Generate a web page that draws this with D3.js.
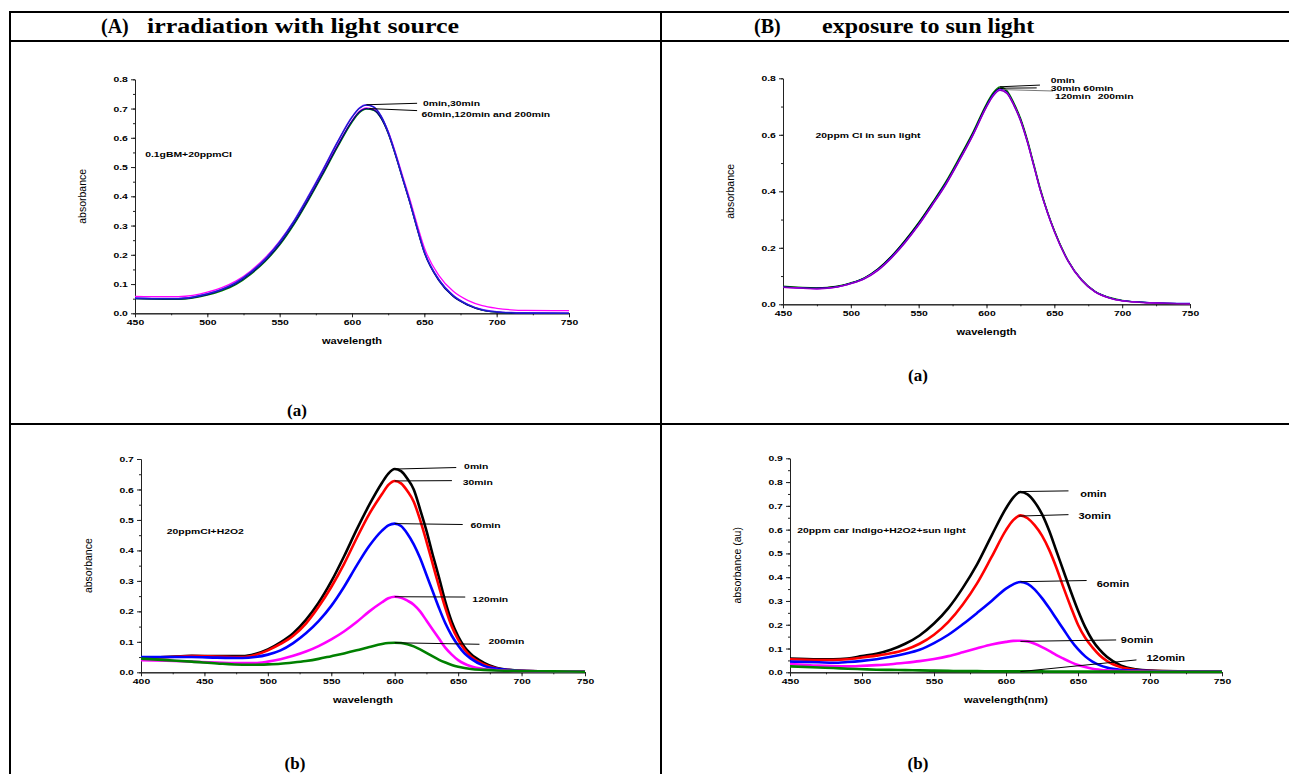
<!DOCTYPE html>
<html>
<head>
<meta charset="utf-8">
<script src="https://cdn.jsdelivr.net/npm/d3@7"></script>
<style>
  body { margin: 0; background: #fff; }
  text { font-family: "Liberation Sans", Arial, sans-serif; }
</style>
</head>
<body>
<svg></svg>
<script>
const width = 1289;
const height = 774;
const svg = d3.select("svg").attr("width", width).attr("height", height);

// ---- panel A(a): irradiation, 0.1gBM + 20ppm CI ----
const wlAa = [450,470,480,490,500,510,520,530,540,550,560,570,580,590,600,605,610,615,620,625,630,635,640,645,650,660,670,680,690,700,710,720,750];
const aa0   = [0.052,0.05,0.05,0.055,0.066,0.082,0.105,0.14,0.185,0.243,0.315,0.4,0.49,0.585,0.67,0.70,0.712,0.705,0.675,0.62,0.545,0.462,0.38,0.292,0.21,0.115,0.06,0.03,0.012,0.005,0.002,0.001,0.0];
const aa30  = [0.053,0.051,0.051,0.056,0.067,0.083,0.107,0.142,0.187,0.246,0.318,0.403,0.493,0.587,0.672,0.702,0.713,0.706,0.676,0.621,0.547,0.464,0.382,0.294,0.212,0.117,0.062,0.031,0.013,0.006,0.003,0.002,0.001];
const aa60  = [0.05,0.049,0.049,0.054,0.064,0.08,0.102,0.136,0.18,0.237,0.308,0.391,0.48,0.572,0.657,0.688,0.70,0.695,0.668,0.615,0.541,0.459,0.378,0.289,0.207,0.112,0.057,0.028,0.011,0.004,0.001,0.0,0.0];
const aa120 = [0.05,0.048,0.048,0.052,0.062,0.077,0.099,0.133,0.177,0.233,0.304,0.387,0.476,0.568,0.653,0.685,0.698,0.694,0.668,0.616,0.543,0.462,0.38,0.292,0.21,0.114,0.058,0.029,0.011,0.004,0.001,0.0,0.0];
const aa200 = [0.058,0.057,0.057,0.061,0.072,0.088,0.111,0.145,0.19,0.247,0.316,0.397,0.485,0.575,0.658,0.69,0.702,0.697,0.672,0.622,0.55,0.47,0.39,0.304,0.224,0.13,0.075,0.044,0.026,0.017,0.012,0.01,0.009];
const labelsAa = ["0min,30min", "60min,120min and 200min"];

// ---- panel B(a): sun light, 20ppm CI ----
const wlBa = [450,475,490,500,510,520,530,540,550,560,570,580,590,600,605,610,615,620,625,630,635,640,645,650,660,670,680,690,700,720,750];
const ba0   = [0.064,0.058,0.064,0.076,0.094,0.126,0.171,0.227,0.29,0.36,0.434,0.52,0.61,0.71,0.75,0.77,0.757,0.715,0.66,0.585,0.495,0.405,0.328,0.262,0.157,0.088,0.046,0.025,0.014,0.006,0.002];
const ba30  = [0.062,0.057,0.063,0.075,0.093,0.125,0.17,0.225,0.287,0.357,0.43,0.515,0.605,0.705,0.745,0.765,0.752,0.71,0.655,0.58,0.49,0.4,0.325,0.26,0.155,0.087,0.045,0.024,0.013,0.006,0.002];
const ba60  = [0.061,0.056,0.062,0.074,0.092,0.123,0.168,0.222,0.284,0.354,0.427,0.512,0.602,0.702,0.742,0.762,0.75,0.708,0.653,0.578,0.489,0.399,0.324,0.259,0.155,0.087,0.045,0.024,0.013,0.006,0.003];
const ba120 = [0.06,0.055,0.061,0.073,0.091,0.121,0.165,0.219,0.281,0.351,0.424,0.509,0.599,0.699,0.739,0.759,0.748,0.707,0.652,0.577,0.488,0.398,0.323,0.258,0.154,0.086,0.044,0.023,0.012,0.005,0.002];
const ba200 = [0.06,0.055,0.061,0.073,0.09,0.12,0.164,0.218,0.28,0.35,0.423,0.508,0.598,0.698,0.738,0.757,0.746,0.705,0.65,0.575,0.486,0.397,0.322,0.257,0.153,0.085,0.044,0.023,0.012,0.005,0.002];
const labelsBa = ["0min", "30min", "60min", "120min", "200min"];

// ---- panel A(b): 20ppm CI + H2O2 ----
const wlAb = [400,420,440,460,480,490,500,510,520,530,540,550,560,570,580,590,595,600,605,610,615,620,625,630,635,640,645,650,655,660,670,680,690,700,725,750];
const ab0   = [0.047,0.05,0.054,0.053,0.053,0.06,0.075,0.098,0.128,0.172,0.228,0.298,0.38,0.468,0.55,0.622,0.652,0.667,0.66,0.635,0.6,0.535,0.465,0.385,0.31,0.23,0.165,0.118,0.083,0.06,0.032,0.015,0.008,0.005,0.003,0.002];
const ab30  = [0.047,0.05,0.053,0.052,0.05,0.057,0.072,0.093,0.12,0.16,0.215,0.28,0.355,0.44,0.52,0.585,0.615,0.628,0.62,0.595,0.56,0.5,0.43,0.355,0.28,0.21,0.15,0.107,0.075,0.052,0.027,0.013,0.007,0.005,0.003,0.002];
const ab60  = [0.05,0.05,0.05,0.048,0.047,0.05,0.058,0.072,0.096,0.128,0.168,0.218,0.28,0.35,0.415,0.465,0.482,0.488,0.48,0.455,0.42,0.375,0.32,0.265,0.21,0.16,0.12,0.088,0.062,0.045,0.022,0.012,0.007,0.005,0.003,0.002];
const ab120 = [0.04,0.038,0.035,0.032,0.03,0.03,0.035,0.043,0.054,0.068,0.086,0.108,0.134,0.165,0.2,0.23,0.243,0.248,0.245,0.235,0.222,0.2,0.17,0.14,0.11,0.08,0.058,0.04,0.028,0.02,0.011,0.007,0.005,0.004,0.003,0.002];
const ab200 = [0.045,0.04,0.035,0.029,0.025,0.025,0.026,0.028,0.032,0.037,0.044,0.053,0.062,0.072,0.083,0.093,0.096,0.097,0.096,0.092,0.085,0.075,0.064,0.052,0.041,0.032,0.024,0.018,0.014,0.011,0.008,0.006,0.005,0.004,0.003,0.002];
const labelsAb = ["0min", "30min", "60min", "120min", "200min"];

// ---- panel B(b): car indigo + H2O2 + sun light ----
const wlBb = [450,470,480,490,500,510,520,530,540,550,560,570,580,590,600,605,610,615,620,625,630,635,640,645,650,655,660,665,670,680,690,700,720,750];
const bb0   = [0.058,0.055,0.055,0.058,0.068,0.078,0.095,0.12,0.155,0.205,0.27,0.355,0.455,0.575,0.69,0.735,0.758,0.748,0.715,0.665,0.595,0.51,0.425,0.34,0.26,0.19,0.135,0.095,0.065,0.028,0.013,0.007,0.004,0.003];
const bb30  = [0.055,0.052,0.052,0.055,0.062,0.07,0.08,0.095,0.12,0.158,0.212,0.285,0.375,0.485,0.598,0.64,0.66,0.648,0.618,0.575,0.515,0.44,0.355,0.275,0.2,0.145,0.105,0.072,0.048,0.021,0.01,0.006,0.004,0.003];
const bb60  = [0.045,0.042,0.04,0.043,0.048,0.055,0.065,0.078,0.095,0.123,0.158,0.202,0.25,0.3,0.352,0.37,0.38,0.372,0.348,0.312,0.27,0.225,0.18,0.135,0.097,0.067,0.045,0.03,0.02,0.01,0.007,0.005,0.003,0.003];
const bb90  = [0.035,0.028,0.026,0.025,0.027,0.03,0.034,0.04,0.047,0.056,0.068,0.084,0.101,0.117,0.128,0.132,0.133,0.13,0.12,0.106,0.09,0.072,0.057,0.043,0.031,0.022,0.015,0.011,0.008,0.005,0.004,0.003,0.002,0.002];
const bb120 = [0.025,0.02,0.018,0.015,0.013,0.011,0.01,0.009,0.008,0.007,0.006,0.005,0.005,0.004,0.004,0.004,0.004,0.004,0.004,0.004,0.003,0.003,0.003,0.003,0.003,0.003,0.003,0.003,0.003,0.003,0.002,0.002,0.002,0.002];
const labelsBb = ["omin", "3omin", "6omin", "9omin", "12omin"];

// tick values
const xTicks450 = [450,500,550,600,650,700,750];
const xTicks400 = [400,450,500,550,600,650,700,750];
const yTicks08 = [0,0.1,0.2,0.3,0.4,0.5,0.6,0.7,0.8];
const yTicks08b = [0,0.2,0.4,0.6,0.8];
const yTicks07 = [0,0.1,0.2,0.3,0.4,0.5,0.6,0.7];
const yTicks09 = [0,0.1,0.2,0.3,0.4,0.5,0.6,0.7,0.8,0.9];

// the chart pictures are stretched sideways in the source
const stretch = 1.3;

// ---- table frame ----
const frame = svg.append("g").attr("stroke", "#000").attr("stroke-width", 2);
frame.append("line").attr("x1", 9).attr("y1", 12).attr("x2", width).attr("y2", 12);
frame.append("line").attr("x1", 9).attr("y1", 41).attr("x2", width).attr("y2", 41);
frame.append("line").attr("x1", 9).attr("y1", 424).attr("x2", width).attr("y2", 424);
frame.append("line").attr("x1", 10).attr("y1", 11).attr("x2", 10).attr("y2", height);
frame.append("line").attr("x1", 661).attr("y1", 11).attr("x2", 661).attr("y2", height);

function serif(x, y, s, size, sx, anchor) {
  svg.append("text")
    .attr("transform", `translate(${x},${y}) scale(${sx},1)`)
    .attr("text-anchor", anchor || "start")
    .style("font-family", "'Liberation Serif', 'Times New Roman', serif")
    .style("font-weight", "bold")
    .style("font-size", size + "px")
    .text(s);
}
serif(101, 33, "(A)", 20, 1);
serif(147, 33, "irradiation with light source", 20, 1.3);
serif(754, 33, "(B)", 20, 1);
serif(822, 33, "exposure to sun light", 20, 1.2);

serif(297, 416, "(a)", 17, 1, "middle");
serif(918, 381, "(a)", 17, 1, "middle");
serif(295, 769, "(b)", 17, 1, "middle");
serif(918, 769, "(b)", 17, 1, "middle");

function range(a, b, step) {
  const out = [];
  for (let v = a; v <= b + 1e-9; v += step) out.push(+v.toFixed(3));
  return out;
}

function wideText(g, px, py, s, size, anchor) {
  return g.append("text")
    .attr("transform", `translate(${px},${py}) scale(${stretch},1)`)
    .attr("dy", "0.35em")
    .attr("text-anchor", anchor || "start")
    .style("font-weight", "bold").style("font-size", size)
    .text(s);
}

function drawPanel(p) {
  const x = d3.scaleLinear().domain(p.xDomain).range([p.left, p.right]);
  const y = d3.scaleLinear().domain(p.yDomain).range([p.bottom, p.top]);
  const g = svg.append("g");

  // minor ticks
  g.append("g").attr("transform", `translate(0,${p.bottom})`)
    .call(d3.axisBottom(x).tickValues(range(p.xDomain[0], p.xDomain[1], 25)).tickSize(2).tickSizeOuter(0).tickFormat(""));
  g.append("g").attr("transform", `translate(${p.left},0)`)
    .call(d3.axisLeft(y).tickValues(range(p.yDomain[0], p.yDomain[1], p.yMinor)).tickSize(2).tickSizeOuter(0).tickFormat(""));

  const xa = g.append("g").attr("transform", `translate(0,${p.bottom})`)
    .call(d3.axisBottom(x).tickValues(p.xTicks).tickSize(4).tickSizeOuter(0).tickPadding(2).tickFormat(d3.format("d")));
  const ya = g.append("g").attr("transform", `translate(${p.left},0)`)
    .call(d3.axisLeft(y).tickValues(p.yTicks).tickSize(4).tickSizeOuter(0).tickPadding(1.5).tickFormat(d3.format(".1f")));
  g.selectAll(".domain").attr("stroke", "#222").attr("stroke-width", 1);
  g.selectAll(".tick line").attr("stroke", "#222");
  [xa, ya].forEach(a => a.selectAll("text")
    .attr("transform", `scale(${stretch},1)`)
    .style("font-family", "'Liberation Sans', Arial, sans-serif")
    .style("font-weight", "bold").style("font-size", "8px").attr("fill", "#000"));

  const line = d3.line().curve(d3.curveMonotoneX)
    .x(d => x(d[0])).y(d => y(d[1]));
  p.series.forEach(s => {
    g.append("path")
      .datum(p.wl.map((w, i) => [w, s.values[i]]))
      .attr("d", line)
      .attr("fill", "none")
      .attr("stroke", s.color)
      .attr("stroke-width", p.lineWidth);
  });

  // leader lines and peak labels
  p.labels.forEach(l => {
    g.append("line")
      .attr("x1", x(l.from[0])).attr("y1", y(l.from[1]))
      .attr("x2", x(l.to[0])).attr("y2", y(l.to[1]))
      .attr("stroke", l.stroke || "#000").attr("stroke-width", 1);
  });
  p.texts.forEach(t => wideText(g, x(t.at[0]), y(t.at[1]), t.text, p.labelSize));

  wideText(g, x(p.note.at[0]), y(p.note.at[1]), p.note.text, "8px");

  wideText(g, (p.left + p.right) / 2, p.bottom + 28, p.xTitle, "8.5px", "middle");

  g.append("text")
    .attr("transform", `translate(${p.left - 49},${(p.top + p.bottom) / 2}) rotate(-90)`)
    .attr("text-anchor", "middle")
    .style("font-size", "10.5px")
    .text(p.yTitle);
}

drawPanel({
  left: 135, right: 569, top: 79.3, bottom: 313.3,
  xDomain: [450, 750], yDomain: [0, 0.8], xTicks: xTicks450, yTicks: yTicks08, yMinor: 0.05,
  wl: wlAa, lineWidth: 1.3, labelSize: "8px",
  series: [
    { values: aa200, color: "#ff00ff" },
    { values: aa120, color: "#008000" },
    { values: aa60, color: "#000080" },
    { values: aa30, color: "#7b2cff" },
    { values: aa0, color: "#1a1acc" }
  ],
  labels: [
    { from: [610, 0.713], to: [645, 0.718] },
    { from: [612, 0.70], to: [645, 0.693] }
  ],
  texts: [
    { at: [649, 0.72], text: labelsAa[0] },
    { at: [648, 0.681], text: labelsAa[1] }
  ],
  note: { at: [457, 0.544], text: "0.1gBM+20ppmCI" },
  xTitle: "wavelength", yTitle: "absorbance"
});

drawPanel({
  left: 783, right: 1190, top: 78.3, bottom: 304.3,
  xDomain: [450, 750], yDomain: [0, 0.8], xTicks: xTicks450, yTicks: yTicks08b, yMinor: 0.1,
  wl: wlBa, lineWidth: 1.3, labelSize: "8px",
  series: [
    { values: ba0, color: "#008000" },
    { values: ba30, color: "#000000" },
    { values: ba60, color: "#0000ff" },
    { values: ba120, color: "#ff00ff" },
    { values: ba200, color: "#8000c0" }
  ],
  labels: [
    { from: [610, 0.77], to: [639.4, 0.776] },
    { from: [610, 0.765], to: [637, 0.766] },
    { from: [612, 0.76], to: [649, 0.755], stroke: "#777" }
  ],
  texts: [
    { at: [647.3, 0.792], text: labelsBa[0] },
    { at: [647.3, 0.766], text: labelsBa[1] },
    { at: [671.4, 0.766], text: labelsBa[2] },
    { at: [650.5, 0.736], text: labelsBa[3] },
    { at: [682, 0.736], text: labelsBa[4] }
  ],
  note: { at: [474, 0.598], text: "20ppm CI in sun light" },
  xTitle: "wavelength", yTitle: "absorbance"
});

drawPanel({
  left: 141, right: 585, top: 459, bottom: 672.3,
  xDomain: [400, 750], yDomain: [0, 0.7], xTicks: xTicks400, yTicks: yTicks07, yMinor: 0.05,
  wl: wlAb, lineWidth: 2.6, labelSize: "8px",
  series: [
    { values: ab0, color: "#000000" },
    { values: ab30, color: "#ff0000" },
    { values: ab60, color: "#0000ff" },
    { values: ab120, color: "#ff00ff" },
    { values: ab200, color: "#008000" }
  ],
  labels: [
    { from: [600, 0.667], to: [648.5, 0.672] },
    { from: [600, 0.628], to: [645.1, 0.629] },
    { from: [600, 0.488], to: [653.6, 0.485] },
    { from: [600, 0.248], to: [655.6, 0.247] },
    { from: [600, 0.097], to: [666.8, 0.092] }
  ],
  texts: [
    { at: [654.7, 0.675], text: labelsAb[0] },
    { at: [653.6, 0.623], text: labelsAb[1] },
    { at: [659.8, 0.482], text: labelsAb[2] },
    { at: [661.2, 0.24], text: labelsAb[3] },
    { at: [673.9, 0.102], text: labelsAb[4] }
  ],
  note: { at: [420.3, 0.462], text: "20ppmCI+H2O2" },
  xTitle: "wavelength", yTitle: "absorbance"
});

drawPanel({
  left: 790, right: 1222, top: 458.3, bottom: 672.3,
  xDomain: [450, 750], yDomain: [0, 0.9], xTicks: xTicks450, yTicks: yTicks09, yMinor: 0.05,
  wl: wlBb, lineWidth: 2.6, labelSize: "8.5px",
  series: [
    { values: bb0, color: "#000000" },
    { values: bb30, color: "#ff0000" },
    { values: bb60, color: "#0000ff" },
    { values: bb90, color: "#ff00ff" },
    { values: bb120, color: "#008000" }
  ],
  labels: [
    { from: [608.4, 0.76], to: [643.4, 0.763] },
    { from: [608.8, 0.657], to: [643.4, 0.663] },
    { from: [610, 0.381], to: [656, 0.386] },
    { from: [610, 0.13], to: [676.5, 0.136] },
    { from: [610, 0.003], to: [690.6, 0.052] }
  ],
  texts: [
    { at: [651.5, 0.75], text: labelsBb[0] },
    { at: [650.3, 0.656], text: labelsBb[1] },
    { at: [663, 0.37], text: labelsBb[2] },
    { at: [679.7, 0.135], text: labelsBb[3] },
    { at: [697.5, 0.059], text: labelsBb[4] }
  ],
  note: { at: [455, 0.596], text: "20ppm car indigo+H2O2+sun light" },
  xTitle: "wavelength(nm)", yTitle: "absorbance (au)"
});
</script>
</body>
</html>
